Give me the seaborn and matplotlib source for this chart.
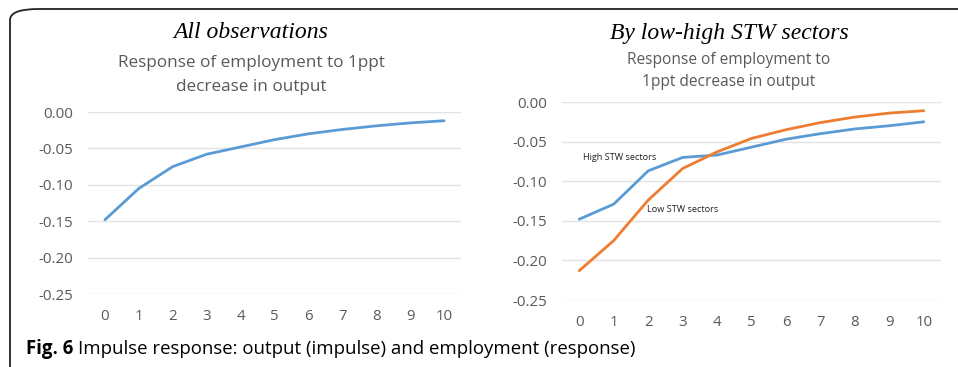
import numpy as np
import pandas as pd
import matplotlib
matplotlib.use("Agg")
import matplotlib.pyplot as plt
import seaborn as sns
from matplotlib.patches import FancyBboxPatch

horizon = list(range(11))
all_obs = [-0.148, -0.105, -0.075, -0.058, -0.048, -0.038, -0.030, -0.024, -0.019, -0.015, -0.012]
high_stw = [-0.148, -0.129, -0.087, -0.070, -0.067, -0.057, -0.047, -0.040, -0.034, -0.030, -0.025]
low_stw = [-0.213, -0.175, -0.124, -0.084, -0.063, -0.046, -0.035, -0.026, -0.019, -0.014, -0.011]
y_ticks = [0.00, -0.05, -0.10, -0.15, -0.20, -0.25]

BLUE = "#5B9BD5"
ORANGE = "#ED7D31"
GRAY = "#595959"
GRID = "#E3E3E3"

sns.set_style("white")
plt.rcParams['font.family'] = ['Open Sans', 'DejaVu Sans']

W, H = 958, 367
fig = plt.figure(figsize=(W / 100, H / 100), dpi=100)

def ax_rect(x0, x1, ytop, ybot):
    return [x0 / W, 1 - ybot / H, (x1 - x0) / W, (ybot - ytop) / H]

axL = fig.add_axes(ax_rect(88, 461, 112, 294))
axR = fig.add_axes(ax_rect(562, 941, 102, 300))

df_all = pd.DataFrame({"h": horizon, "v": all_obs})
sns.lineplot(data=df_all, x="h", y="v", ax=axL, color=BLUE, linewidth=2)

df_sec = pd.DataFrame({"h": horizon * 2,
                       "v": high_stw + low_stw,
                       "s": ["High STW sectors"] * 11 + ["Low STW sectors"] * 11})
sns.lineplot(data=df_sec, x="h", y="v", hue="s", ax=axR,
             palette=[BLUE, ORANGE], linewidth=2, legend=False)

for ax in (axL, axR):
    ax.set_xlim(-0.5, 10.5)
    ax.set_ylim(-0.25, 0.0)
    ax.set_yticks(y_ticks)
    ax.set_yticklabels([f"{t:.2f}" for t in y_ticks])
    ax.set_xticks(horizon)
    ax.set_xticklabels([str(h) for h in horizon])
    ax.grid(axis="y", color=GRID, linewidth=1)
    ax.set_axisbelow(True)
    for s in ax.spines.values():
        s.set_visible(False)
    ax.tick_params(axis="both", length=0, colors=GRAY, labelsize=10.8)
    ax.tick_params(axis="y", pad=11)
    ax.tick_params(axis="x", pad=11)
    ax.set_xlabel("")
    ax.set_ylabel("")
    for ln in ax.lines:
        ln.set_clip_on(False)

axR.text(0.12, -0.070, "High STW sectors", fontsize=6.6, color="#222222", va="center", ha="left")
axR.text(1.98, -0.136, "Low STW sectors", fontsize=6.6, color="#222222", va="center", ha="left")

# titles
fig.text(251 / W, 1 - 33 / H, "All observations", family="Liberation Serif", style="italic",
         fontsize=17, ha="center", va="center", color="black")
fig.text(251 / W, 1 - 75 / H, "Response of employment to 1ppt\ndecrease in output",
         fontsize=12.3, ha="center", va="center", color=GRAY, linespacing=1.65)
fig.text(729 / W, 1 - 33 / H, "By low-high STW sectors", family="Liberation Serif", style="italic",
         fontsize=17, ha="center", va="center", color="black")
fig.text(729 / W, 1 - 70.5 / H, "Response of employment to\n1ppt decrease in output",
         fontsize=11.2, ha="center", va="center", color=GRAY, linespacing=1.5)

# caption
cap_y = 1 - 349 / H
t1 = fig.text(26 / W, cap_y, "Fig. 6", fontsize=13.4, fontweight="bold",
              ha="left", va="center", color="black")
renderer = fig.canvas.get_renderer()
bb = t1.get_window_extent(renderer=renderer)
fig.text((bb.x1 + 5) / W, cap_y, "Impulse response: output (impulse) and employment (response)",
         fontsize=13.4, ha="left", va="center", color="black")

# border
box = FancyBboxPatch((10 / W, -20 / H), (W + 40) / W, (H + 20 - 9) / H,
                     boxstyle="round,pad=0,rounding_size=0.03",
                     transform=fig.transFigure, fill=False, edgecolor="#222222",
                     linewidth=1.3, clip_on=False)
fig.patches.append(box)

fig.savefig("out.png", dpi=100)
